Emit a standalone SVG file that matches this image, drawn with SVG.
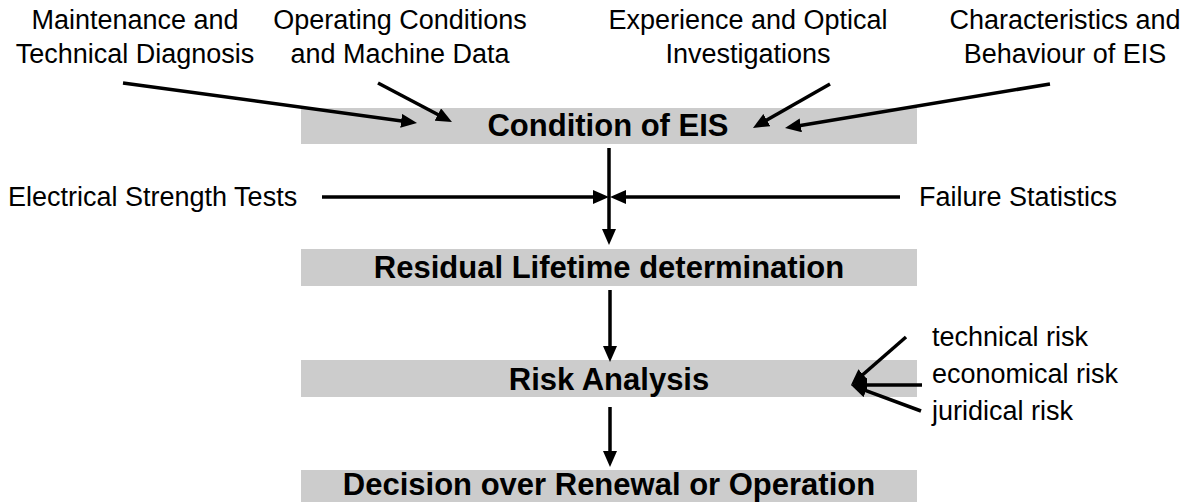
<svg xmlns="http://www.w3.org/2000/svg" width="1191" height="502" viewBox="0 0 1191 502">
<style>
.box{fill:#cccccc}
.h{font-family:"Liberation Sans",Arial,sans-serif;font-weight:bold;font-size:31px;fill:#000;text-anchor:middle}
.t{font-family:"Liberation Sans",Arial,sans-serif;font-size:27px;fill:#000}
.c{text-anchor:middle}
.ln{stroke:#000;stroke-width:3.5;fill:none;marker-end:url(#ah)}
</style>
<defs>
<marker id="ah" markerUnits="userSpaceOnUse" markerWidth="16" markerHeight="14" refX="8" refY="7" orient="auto">
<path d="M0,0 L16,7 L0,14 z" fill="#000"/>
</marker>
</defs>
<rect width="1191" height="502" fill="#fff"/>
<g id="labels-top">
<text class="t c" x="135" y="29">Maintenance and</text>
<text class="t c" x="135" y="63">Technical Diagnosis</text>
<text class="t c" x="400" y="29">Operating Conditions</text>
<text class="t c" x="400" y="63">and Machine Data</text>
<text class="t c" x="748" y="29">Experience and Optical</text>
<text class="t c" x="748" y="63">Investigations</text>
<text class="t c" x="1065" y="29">Characteristics and</text>
<text class="t c" x="1065" y="63">Behaviour of EIS</text>
</g>
<g id="node-condition">
<rect class="box" x="301" y="108" width="616" height="36"/>
<text class="h" x="608" y="136">Condition of EIS</text>
</g>
<g id="labels-middle">
<text class="t" x="8" y="206">Electrical Strength Tests</text>
<text class="t" x="919" y="206">Failure Statistics</text>
</g>
<g id="node-residual">
<rect class="box" x="301" y="249" width="616" height="37"/>
<text class="h" x="609" y="278">Residual Lifetime determination</text>
</g>
<g id="node-risk">
<rect class="box" x="301" y="360" width="616" height="37"/>
<text class="h" x="609" y="390">Risk Analysis</text>
</g>
<g id="labels-risk">
<text class="t" x="932" y="346">technical risk</text>
<text class="t" x="932" y="383">economical risk</text>
<text class="t" x="932" y="420">juridical risk</text>
</g>
<g id="node-decision">
<rect class="box" x="301" y="470" width="616" height="40"/>
<text class="h" x="609" y="495">Decision over Renewal or Operation</text>
</g>
<g id="connectors">
<line class="ln" x1="123" y1="83" x2="409.1" y2="121.9"/>
<line class="ln" x1="378" y1="83" x2="444.9" y2="118.3"/>
<line class="ln" x1="830" y1="84" x2="759.9" y2="124"/>
<line class="ln" x1="1050" y1="84" x2="792.9" y2="126.7"/>
<line class="ln" x1="609" y1="148" x2="609" y2="237"/>
<line class="ln" x1="322" y1="197" x2="601" y2="197"/>
<line class="ln" x1="900" y1="197" x2="618" y2="197"/>
<line class="ln" x1="610" y1="290" x2="610" y2="354"/>
<line class="ln" x1="610" y1="407" x2="610" y2="459"/>
<line class="ln" x1="906" y1="337" x2="857" y2="379.7"/>
<line class="ln" x1="922" y1="385" x2="859" y2="385"/>
<line class="ln" x1="921" y1="411" x2="858.5" y2="387.8"/>
</g>
</svg>
